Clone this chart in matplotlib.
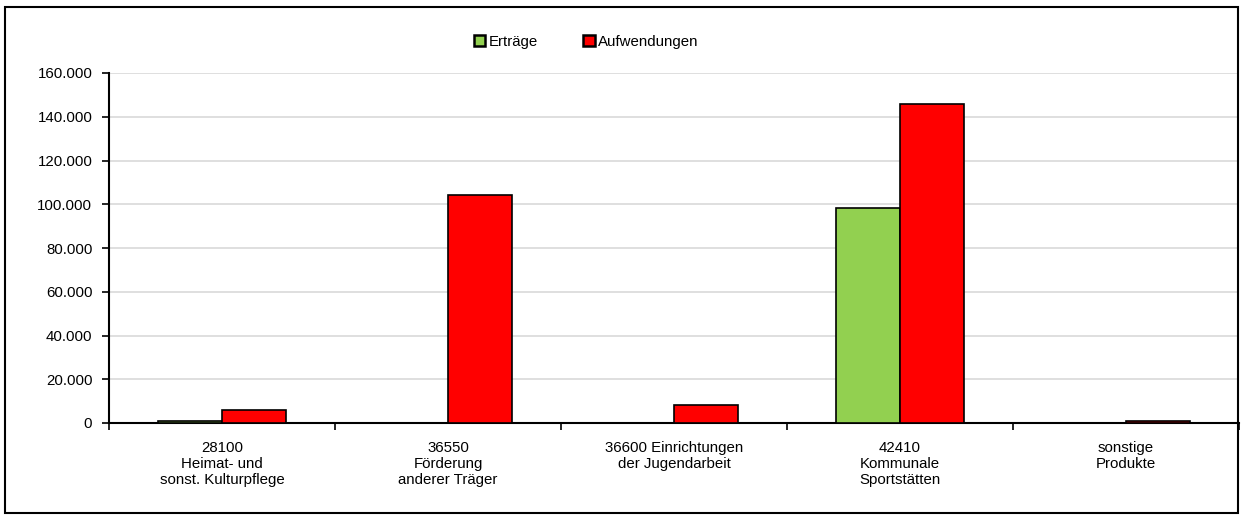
import matplotlib
matplotlib.use("Agg")
import matplotlib.pyplot as plt
import numpy as np
from matplotlib.patches import Rectangle
from matplotlib.ticker import FuncFormatter

categories = ["28100\nHeimat- und\nsonst. Kulturpflege",
              "36550\nFörderung\nanderer Träger",
              "36600 Einrichtungen\nder Jugendarbeit",
              "42410\nKommunale\nSportstätten",
              "sonstige\nProdukte"]
ertraege = [800, 0, 0, 98500, 0]
aufwendungen = [5800, 104000, 8200, 146000, 900]
yticks = [0, 20000, 40000, 60000, 80000, 100000, 120000, 140000, 160000]

plt.rcParams['font.family'] = ['Liberation Sans', 'DejaVu Sans']
FS = 10.8

fig = plt.figure(figsize=(12.41, 5.18), dpi=100)
ax = fig.add_axes([109/1241, 1-423/518, (1239-109)/1241, (423-73)/518])

x = np.arange(len(categories))
w = 0.283
ax.bar(x - w/2, ertraege, w, color="#92D050", edgecolor="black", linewidth=1.2, label="Erträge", zorder=3)
ax.bar(x + w/2, aufwendungen, w, color="#FF0000", edgecolor="black", linewidth=1.2, label="Aufwendungen", zorder=3)

ax.set_xlim(-0.5, len(categories) - 0.5)
ax.set_ylim(0, 160000)
ax.set_yticks(yticks)
ax.yaxis.set_major_formatter(FuncFormatter(lambda v, p: f"{int(v):,}".replace(",", ".")))
ax.set_xticks(x)
ax.set_xticklabels(categories, fontsize=FS, linespacing=1.2)
ax.set_xticks(np.arange(len(categories) + 1) - 0.5, minor=True)
ax.tick_params(axis='x', which='major', length=0, pad=13)
ax.tick_params(axis='x', which='minor', length=5, width=1.2, direction='out')
ax.tick_params(axis='y', length=5, width=1.2, labelsize=FS, pad=7)
ax.grid(axis='y', color="#d9d9d9", linewidth=1.2, zorder=0)
for s in ['top', 'right']:
    ax.spines[s].set_visible(False)
ax.spines['left'].set_linewidth(1.5)
ax.spines['bottom'].set_linewidth(1.5)

leg = ax.legend(loc='center left', bbox_to_anchor=(474/1241, 1-42/518), bbox_transform=fig.transFigure,
                ncol=2, frameon=False, fontsize=FS, handlelength=0.75, handleheight=0.75,
                handletextpad=0.25, columnspacing=3.0, borderpad=0, borderaxespad=0)
for h in leg.legend_handles:
    h.set_linewidth(1.8)

fig.patches.append(Rectangle((5/1241, 5/518), 1233/1241, 506/518, transform=fig.transFigure,
                             fill=False, edgecolor="black", linewidth=1.5))

fig.savefig("out.png", dpi=100)
